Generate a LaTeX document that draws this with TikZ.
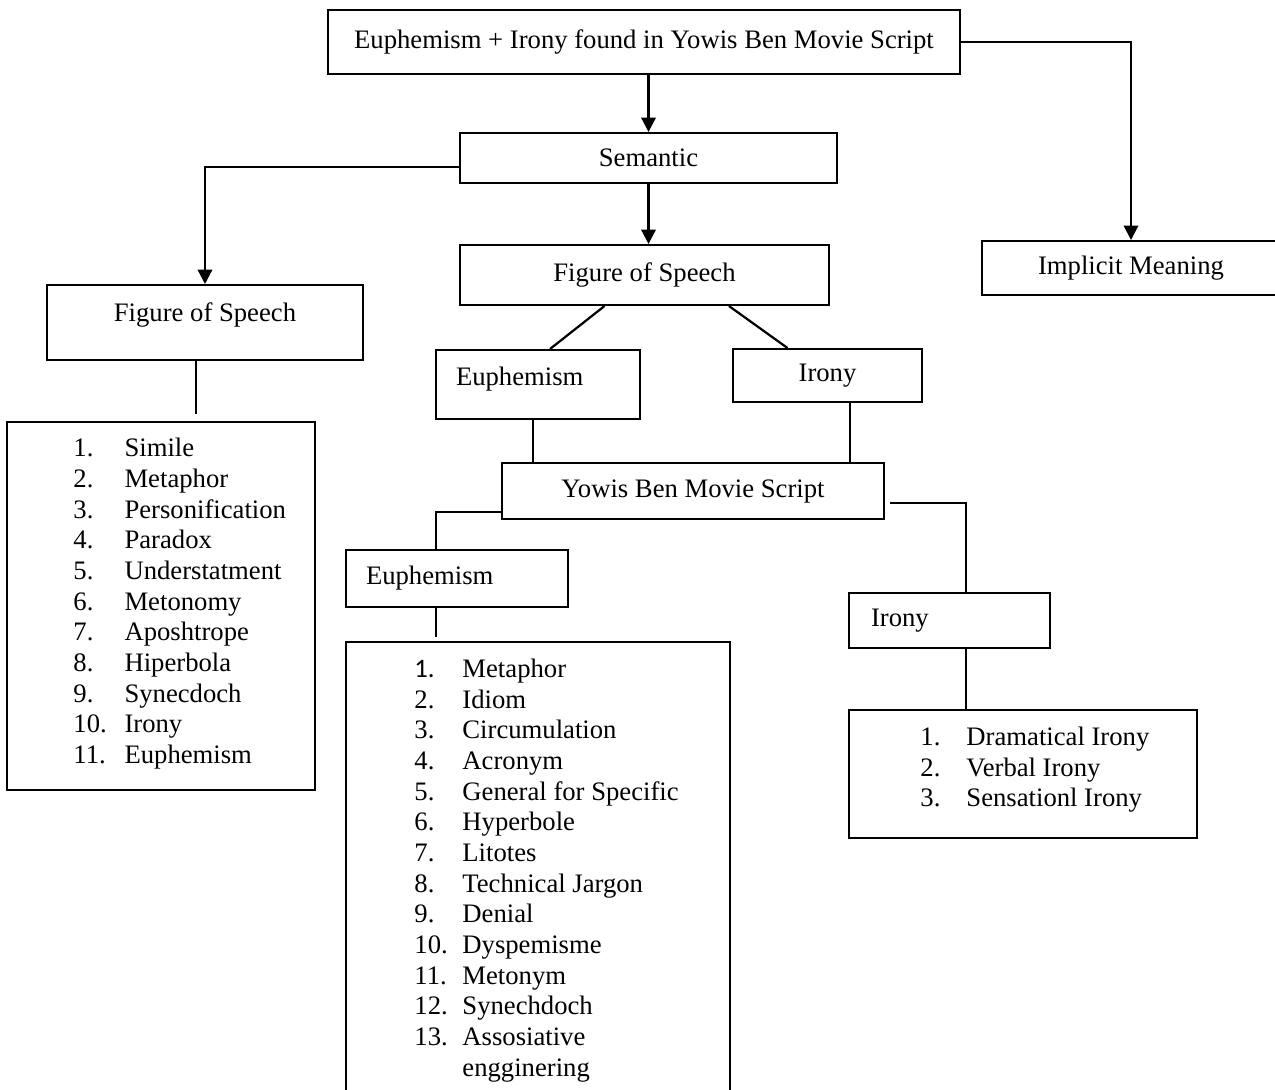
\documentclass[tikz,border=0pt]{standalone}
\usepackage{fontspec}
\setmainfont{Liberation Serif}
\newfontfamily\calfont{Carlito}
\usepackage{tikz}
\usetikzlibrary{positioning,calc,arrows.meta}

\begin{document}
\begin{tikzpicture}[
  x=0.45pt, y=-0.45pt,
  box/.style={draw, line width=0.9pt, inner sep=0pt,
    font=\fontsize{12}{13.5}\selectfont, align=center},
  lbox/.style={box, align=left, inner xsep=9pt},
  items/.style={inner sep=0pt, anchor=north west,
    font=\fontsize{12}{13.8}\selectfont},
  arr/.style={-{Triangle[length=6.5pt,width=6.5pt]}, line width=1pt},
  link/.style={line width=1pt}
]
\useasboundingbox (0,0) rectangle (1275,1089);
\clip (0,0) rectangle (1275,1089);

% ---- top ----
\node[box, minimum width=284.4pt, minimum height=28.8pt] (top)
  at (644,42) {Euphemism + Irony found in Yowis Ben Movie Script};
\node[box, minimum width=169.65pt, minimum height=22.5pt] (sem)
  at (648.5,158) {Semantic};
\node[box, minimum width=134.1pt, minimum height=24.3pt] (impl)
  at (1131,268) {Implicit Meaning};

\draw[arr] (sem.north |- top.south) -- (sem.north);
\draw[arr] (top.east) -| (impl.north);

% ---- left branch ----
\node[box, minimum width=142.2pt, text height=16.2pt, text depth=17.55pt,
  anchor=north] (fosL) at (205,284) {Figure of Speech};
\node[box, minimum width=138.6pt, minimum height=165.6pt] (simList)
  at (161,606) {};
\node[items] (simItems) at (73,435) {%
  \begin{tabular}{@{}p{23pt}@{}l@{}}
  1. & Simile\\
  2. & Metaphor\\
  3. & Personification\\
  4. & Paradox\\
  5. & Understatment\\
  6. & Metonomy\\
  7. & Aposhtrope\\
  8. & Hiperbola\\
  9. & Synecdoch\\
  10. & Irony\\
  11. & Euphemism
  \end{tabular}};

\draw[arr] ([yshift=-4pt]sem.west) -| (fosL.north);
\draw[link, shorten >=3pt] ([xshift=-4pt]fosL.south)
  -- ([xshift=-4pt]fosL.south |- simList.north);

% ---- middle branch ----
\node[box, minimum width=166.05pt, minimum height=27pt] (fosM)
  at (644.5,275) {Figure of Speech};
\node[lbox, text width=73.8pt, text height=15.75pt, text depth=15.3pt,
  anchor=north] (eumM) at (538,349) {Euphemism};
\node[box, minimum width=85.05pt, minimum height=23.85pt] (irM)
  at (827.5,375.5) {Irony};
\node[box, minimum width=171.9pt, minimum height=25.2pt] (yowis)
  at (693,491) {Yowis Ben Movie Script};

\draw[arr] (sem.south) -- (sem.south |- fosM.north);
\draw[link] ([xshift=-18pt]fosM.south) -- ([xshift=5.4pt]eumM.north);
\draw[link] ([xshift=38pt]fosM.south) -- ([xshift=-18pt]irM.north);
\draw[link] ([xshift=-2.25pt]eumM.south)
  -- ([xshift=-2.25pt]eumM.south |- yowis.north);
\draw[link] ([xshift=10pt]irM.south)
  -- ([xshift=10pt]irM.south |- yowis.north);

% ---- euphemism ----
\node[lbox, text width=81.9pt, minimum height=25.65pt] (euL)
  at (457,578.5) {Euphemism};
\node[box, minimum width=172.8pt, minimum height=210.6pt] (eupList)
  at (538,876) {};
\node[items] (eupItems) at (414,655.5) {%
  \begin{tabular}{@{}p{21.6pt}@{}l@{}}
  {\calfont 1.} & Metaphor\\
  2. & Idiom\\
  3. & Circumulation\\
  4. & Acronym\\
  5. & General for Specific\\
  6. & Hyperbole\\
  7. & Litotes\\
  8. & Technical Jargon\\
  9. & Denial\\
  10. & Dyspemisme\\
  11. & Metonym\\
  12. & Synechdoch\\
  13. & Assosiative\\
      & engginering
  \end{tabular}};

\draw[link, line width=1.3pt] ([yshift=-9.45pt]yowis.west)
  -| ([xshift=-9.45pt]euL.north);
\draw[link, shorten >=1.8pt] ([xshift=-9.45pt]euL.south)
  -- ([xshift=-9.45pt]euL.south |- eupList.north);

% ---- irony ----
\node[lbox, inner xsep=9.9pt, text width=70.65pt, minimum height=24.75pt]
  (irL) at (949.5,620.5) {Irony};
\node[box, minimum width=156.6pt, minimum height=57.6pt] (irList)
  at (1023,774) {};
\node[items] (irItems) at (920,723.5) {%
  \begin{tabular}{@{}p{20.7pt}@{}l@{}}
  1. & Dramatical Irony\\
  2. & Verbal Irony\\
  3. & Sensationl Irony
  \end{tabular}};

\draw[link, shorten <=2.25pt] ([yshift=-5.4pt]yowis.east)
  -| ([xshift=7.4pt]irL.north);
\draw[link] ([xshift=7.4pt]irL.south)
  -- ([xshift=7.4pt]irL.south |- irList.north);
\end{tikzpicture}
\end{document}
